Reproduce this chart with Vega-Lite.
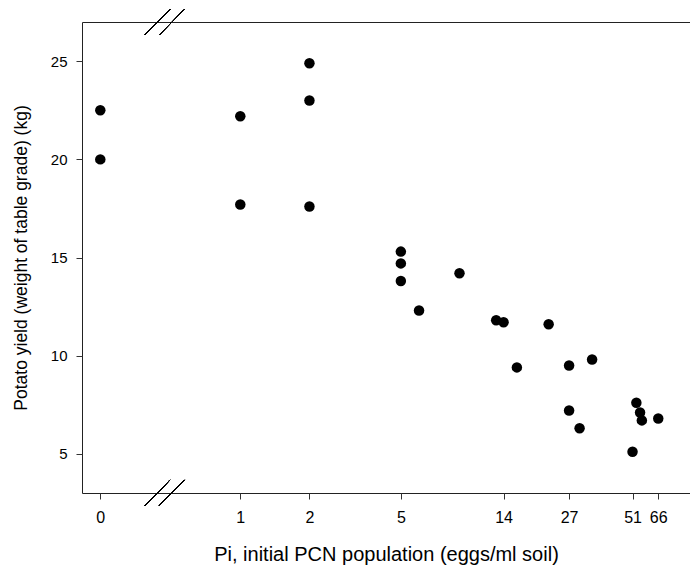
{
  "$schema": "https://vega.github.io/schema/vega-lite/v6.json",
  "width": 608,
  "height": 471,
  "autosize": "none",
  "padding": {"left": 82, "top": 22, "right": 0, "bottom": 74},
  "background": "white",
  "config": {
    "font": "Liberation Sans",
    "view": {"stroke": "#222", "strokeWidth": 1},
    "axis": {
      "grid": false,
      "domain": false,
      "tickColor": "#333",
      "tickSize": 6,
      "labelFont": "Liberation Sans",
      "labelFontSize": 15.5,
      "labelColor": "#000",
      "titleFont": "Liberation Sans",
      "titleFontSize": 17,
      "titleFontWeight": "normal",
      "titleColor": "#000"
    }
  },
  "data": {
    "values": [
      {"Pi": 0, "Yield": 22.5},
      {"Pi": 0, "Yield": 20.0},
      {"Pi": 1, "Yield": 22.2},
      {"Pi": 1, "Yield": 17.7},
      {"Pi": 2, "Yield": 24.9},
      {"Pi": 2, "Yield": 23.0},
      {"Pi": 2, "Yield": 17.6},
      {"Pi": 5, "Yield": 15.3},
      {"Pi": 5, "Yield": 14.7},
      {"Pi": 5, "Yield": 13.8},
      {"Pi": 6, "Yield": 12.3},
      {"Pi": 9, "Yield": 14.2},
      {"Pi": 13, "Yield": 11.8},
      {"Pi": 14, "Yield": 11.7},
      {"Pi": 16, "Yield": 9.4},
      {"Pi": 22, "Yield": 11.6},
      {"Pi": 27, "Yield": 9.5},
      {"Pi": 27, "Yield": 7.2},
      {"Pi": 30, "Yield": 6.3},
      {"Pi": 34, "Yield": 9.8},
      {"Pi": 51, "Yield": 5.1},
      {"Pi": 53, "Yield": 7.6},
      {"Pi": 55, "Yield": 7.1},
      {"Pi": 56, "Yield": 6.7},
      {"Pi": 66, "Yield": 6.8}
    ]
  },
  "encoding": {
    "y": {
      "field": "Yield",
      "type": "quantitative",
      "scale": {"domain": [3, 27], "nice": false, "zero": false},
      "axis": {
        "values": [5, 10, 15, 20, 25],
        "labelFontSize": 15,
        "labelPadding": 9,
        "titleFontSize": 17.5,
        "titlePadding": 20,
        "title": "Potato yield (weight of table grade) (kg)"
      }
    }
  },
  "layer": [
    {
      "layer": [
        {
          "transform": [{"filter": "datum.Pi == 0"}],
          "mark": {"type": "circle", "size": 110, "color": "#000", "opacity": 1},
          "encoding": {
            "x": {
              "field": "Pi",
              "type": "quantitative",
              "scale": {"type": "linear", "domain": [-1, 32.22], "nice": false, "zero": false},
              "axis": {"orient": "bottom", "values": [0], "format": "d", "labelFontSize": 16, "labelPadding": 10, "title": null}
            }
          }
        },
        {
          "mark": {"type": "rule", "color": "#000", "strokeWidth": 1},
          "encoding": {"x": {"datum": 2.443}, "x2": {"datum": 3.809}, "y": {"datum": 26.346}, "y2": {"datum": 27.634}}
        },
        {
          "mark": {"type": "rule", "color": "#000", "strokeWidth": 1},
          "encoding": {"x": {"datum": 3.224}, "x2": {"datum": 4.590}, "y": {"datum": 26.346}, "y2": {"datum": 27.634}}
        },
        {
          "mark": {"type": "rule", "color": "#000", "strokeWidth": 1},
          "encoding": {"x": {"datum": 2.443}, "x2": {"datum": 3.809}, "y": {"datum": 2.356}, "y2": {"datum": 3.664}}
        },
        {
          "mark": {"type": "rule", "color": "#000", "strokeWidth": 1},
          "encoding": {"x": {"datum": 3.224}, "x2": {"datum": 4.590}, "y": {"datum": 2.356}, "y2": {"datum": 3.664}}
        }
      ]
    },
    {
      "transform": [{"filter": "datum.Pi > 0"}],
      "mark": {"type": "circle", "size": 110, "color": "#000", "opacity": 1},
      "encoding": {
        "x": {
          "field": "Pi",
          "type": "quantitative",
          "scale": {"type": "log", "domain": [0.2046, 90.73], "nice": false},
          "axis": {
            "orient": "bottom",
            "values": [1, 2, 5, 14, 27, 51, 66],
            "format": "d",
            "labelFontSize": 16,
            "labelPadding": 10,
            "titleFontSize": 20,
            "titlePadding": 19,
            "title": "Pi, initial PCN population (eggs/ml soil)"
          }
        }
      }
    }
  ],
  "resolve": {"scale": {"x": "independent"}, "axis": {"x": "independent"}}
}
